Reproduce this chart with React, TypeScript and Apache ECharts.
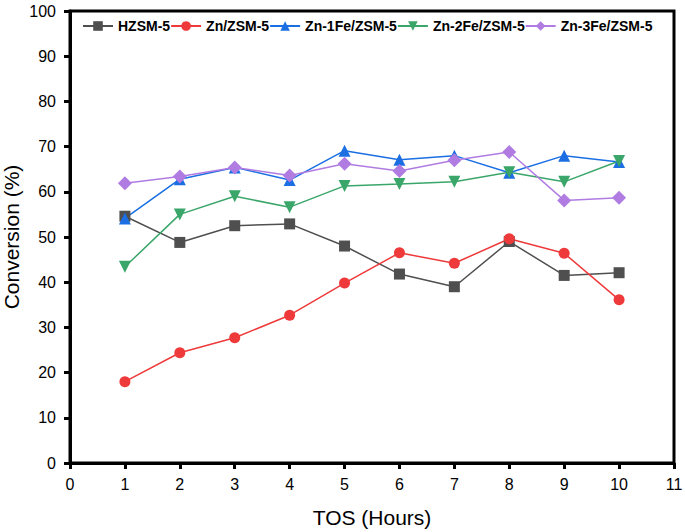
import React, { useEffect, useRef } from "react";
import * as echarts from "echarts";

const tos = [1, 2, 3, 4, 5, 6, 7, 8, 9, 10];
const hzsm5 = [54.6, 48.8, 52.5, 52.9, 48.0, 41.8, 39.0, 49.0, 41.5, 42.1];
const znZsm5 = [18.0, 24.4, 27.7, 32.7, 39.8, 46.5, 44.2, 49.6, 46.4, 36.1];
const zn1Fe = [54.1, 62.8, 65.4, 62.6, 69.1, 67.1, 68.0, 64.2, 68.0, 66.6];
const zn2Fe = [43.4, 55.0, 59.0, 56.6, 61.3, 61.7, 62.2, 64.3, 62.2, 66.8];
const zn3Fe = [61.9, 63.4, 65.4, 63.6, 66.2, 64.6, 67.0, 68.8, 58.1, 58.7];
const seriesNames = ["HZSM-5", "Zn/ZSM-5", "Zn-1Fe/ZSM-5", "Zn-2Fe/ZSM-5", "Zn-3Fe/ZSM-5"];
const xTicks = [0, 1, 2, 3, 4, 5, 6, 7, 8, 9, 10, 11];

export default function App() {
  const ref = useRef<HTMLDivElement>(null);
  useEffect(() => {
    if (!ref.current) return;
    const chart = echarts.init(ref.current, null, { renderer: "svg" });
    const font = "'Liberation Sans', Arial, sans-serif";
    const mk = (
      name: string,
      vals: number[],
      color: string,
      symbol: string,
      size: number,
      rotate = 0
    ) => ({
      name,
      type: "line",
      data: tos.map((t, i) => [t, vals[i]]),
      symbol,
      symbolSize: size,
      symbolRotate: rotate,
      showAllSymbol: true,
      lineStyle: { color, width: 1.5 },
      itemStyle: { color },
    });
    chart.setOption({
      animation: false,
      backgroundColor: "#fff",
      textStyle: { fontFamily: font },
      legend: {
        top: 14,
        left: 77,
        itemWidth: 30,
        itemHeight: 12,
        itemGap: 0,
        textStyle: { fontFamily: font, fontSize: 14, fontWeight: "bold", color: "#000" },
        data: seriesNames,
      },
      grid: {
        left: 70,
        right: 11,
        top: 11,
        bottom: 69,
        show: true,
        borderColor: "#000",
        borderWidth: 3,
        backgroundColor: "transparent",
        outerBoundsMode: "none",
      },
      xAxis: {
        type: "value",
        min: 0,
        max: 11,
        interval: 1,
        name: "TOS (Hours)",
        nameLocation: "middle",
        nameGap: 44,
        nameTextStyle: { fontSize: 21, color: "#000", fontFamily: font },
        axisLine: { show: true, onZero: false, lineStyle: { color: "#000", width: 3 } },
        axisTick: { show: true, length: 6, lineStyle: { color: "#000", width: 3 } },
        axisLabel: {
          fontSize: 16,
          color: "#000",
          margin: 13,
          formatter: (v: number) => (xTicks.includes(v) ? String(v) : ""),
        },
        splitLine: { show: false },
      },
      yAxis: {
        type: "value",
        min: 0,
        max: 100,
        interval: 10,
        name: "Conversion (%)",
        nameLocation: "middle",
        nameGap: 48,
        nameMoveOverlap: false,
        nameTextStyle: { fontSize: 21, color: "#000", fontFamily: font },
        axisLine: { show: true, lineStyle: { color: "#000", width: 3 } },
        axisTick: { show: true, length: 6, lineStyle: { color: "#000", width: 3 } },
        axisLabel: { fontSize: 16, color: "#000", margin: 14 },
        splitLine: { show: false },
      },
      series: [
        mk(seriesNames[0], hzsm5, "#4f4f4f", "rect", 11),
        mk(seriesNames[1], znZsm5, "#ee3a3a", "circle", 11),
        mk(seriesNames[2], zn1Fe, "#1b6fe3", "triangle", 12),
        mk(seriesNames[3], zn2Fe, "#3aa66a", "triangle", 12, 180),
        mk(seriesNames[4], zn3Fe, "#b07ce2", "diamond", 14),
      ],
    });
    return () => chart.dispose();
  }, []);
  return (
    <div style={{ position: "fixed", left: 0, top: 0, width: 685, height: 532, background: "#fff" }}>
      <div ref={ref} style={{ width: 685, height: 532 }} />
    </div>
  );
}
